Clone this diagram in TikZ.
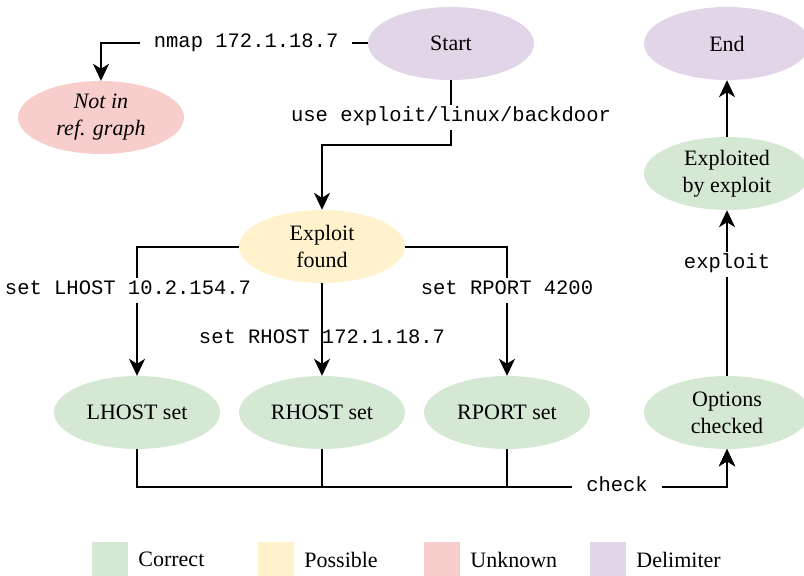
\documentclass[tikz,border=0pt]{standalone}
\usepackage{fontspec}
\setmainfont{Liberation Serif}
\setmonofont{Liberation Mono}
\usetikzlibrary{shapes.geometric,arrows.meta}

\definecolor{okgreen}{HTML}{D5E8D4}
\definecolor{maybeyellow}{HTML}{FFF2CC}
\definecolor{unkred}{HTML}{F8CECC}
\definecolor{delimpurple}{HTML}{E1D5E7}

\begin{document}
\begin{tikzpicture}[x=1bp,y=-1bp,
  state/.style={ellipse, draw=none, minimum width=166bp, minimum height=73bp,
    inner sep=0pt, align=center, font=\fontsize{22bp}{27bp}\selectfont},
  wire/.style={line width=2bp, line join=miter},
  arr/.style={wire, -{Stealth[length=17bp,width=16bp,inset=5bp]}},
  cmd/.style={font=\ttfamily\fontsize{20.5bp}{24bp}\selectfont,
    inner xsep=14bp, inner ysep=3bp, text height=14bp, text depth=5bp},
  bg/.style={fill=white},
  legsq/.style={minimum size=36bp, inner sep=0pt, draw=none},
  legtxt/.style={anchor=west, inner sep=0pt, font=\fontsize{22bp}{27bp}\selectfont}]

\useasboundingbox (0,0) rectangle (804,576);

% states
\node[state, fill=delimpurple] (start) at (451,43.5) {Start};
\node[state, fill=delimpurple] (end)   at (727,43.5) {End};
\node[state, fill=unkred, font=\fontsize{22bp}{27bp}\selectfont\itshape]
      (nir) at (101,117.5) {Not in\\ref. graph};
\node[state, fill=maybeyellow] (found) at (322,246.5) {Exploit\\found};
\node[state, fill=okgreen] (lhost) at (137,412.5) {LHOST set};
\node[state, fill=okgreen] (rhost) at (322,412.5) {RHOST set};
\node[state, fill=okgreen] (rport) at (507,412.5) {RPORT set};
\node[state, fill=okgreen] (opts)  at (727,412.5) {Options\\checked};
\node[state, fill=okgreen] (expl)  at (727,173.5) {Exploited\\by exploit};

% helper coordinates for routed connectors
\coordinate (split) at (0,145);
\coordinate (bus) at (0,487);

% connectors
\draw[arr] (start.west) -| node[cmd, bg, pos=0.228] {nmap 172.1.18.7} (nir.north);
\draw[arr] (start.south) -- node[cmd, bg, pos=0.57] {use exploit/linux/backdoor}
      (start.south |- split) -| (found.north);
\draw[arr] (found.west) -| node[cmd, bg, pos=0.67, xshift=-9bp] {set LHOST 10.2.154.7} (lhost.north);
\draw[arr] (found.south) -- node[cmd, pos=0.6] {set RHOST 172.1.18.7} (rhost.north);
\draw[arr] (found.east) -| node[cmd, bg, pos=0.67] {set RPORT 4200} (rport.north);
\draw[arr] (lhost.south) -- (lhost.south |- bus) -| (opts.south);
\draw[arr] (rhost.south) -- (rhost.south |- bus) -| (opts.south);
\draw[arr] (rport.south) -- (rport.south |- bus) -| node[cmd, bg, pos=0.25] {check} (opts.south);
\draw[arr] (opts.north) -- node[cmd, bg, pos=0.675] {exploit} (expl.south);
\draw[arr] (expl.north) -- (end.south);

% legend
\node[legsq, fill=okgreen]     (k1) at (110,559.5) {};
\node[legtxt] (k1t) at ([xshift=10bp]k1.east) {Correct};
\node[legsq, fill=maybeyellow] (k2) at (276,559.5) {};
\node[legtxt] (k2t) at ([xshift=10bp]k2.east) {Possible};
\node[legsq, fill=unkred]      (k3) at (442,559.5) {};
\node[legtxt] (k3t) at ([xshift=10bp]k3.east) {Unknown};
\node[legsq, fill=delimpurple] (k4) at (608,559.5) {};
\node[legtxt] (k4t) at ([xshift=10bp]k4.east) {Delimiter};
\end{tikzpicture}
\end{document}
